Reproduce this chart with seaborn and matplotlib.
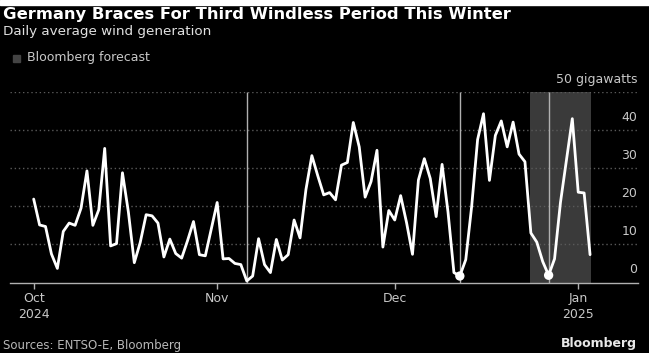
import numpy as np
import pandas as pd
import matplotlib
matplotlib.use("Agg")
import matplotlib.pyplot as plt
import matplotlib.transforms as mtransforms
import seaborn as sns

# ---- data ----
start_date = "2024-10-01"
wind_gw = [21.9, 15.1, 14.7, 7.5, 3.7, 13.4, 15.6, 15.0, 19.5, 29.3,
           15.0, 19.1, 35.2, 9.6, 10.2, 28.8, 18.5, 5.2, 10.5, 17.8,
           17.5, 15.6, 6.7, 11.4, 7.6, 6.4, 11.0, 16.0, 7.3, 7.0,
           14.0, 21.0, 6.2, 6.3, 5.0, 4.7, 0.4, 1.7, 11.5, 4.7,
           2.6, 11.3, 5.9, 7.3, 16.4, 11.7, 24.4, 33.3, 28.0, 23.0,
           23.6, 21.7, 30.8, 31.5, 42.0, 35.6, 22.4, 26.5, 34.7, 9.3,
           18.9, 16.4, 22.8, 15.7, 7.4, 26.9, 32.5, 27.3, 17.3, 31.0,
           18.5, 2.6, 1.7, 6.0, 20.0, 37.5, 44.3, 26.8, 38.6, 42.4,
           35.6, 42.1, 33.7, 31.7, 13.0, 10.6, 5.5, 1.9, 6.2, 21.0,
           32.0, 43.0, 23.7, 23.5, 7.3]
windless_dates = ["2024-11-06", "2024-12-12", "2024-12-27"]
marked_dates = ["2024-12-12", "2024-12-27"]
forecast_start = "2024-12-24"
forecast_end = "2025-01-03"
y_ticks = [0, 10, 20, 30, 40, 50]
y_tick_labels = ["0", "10", "20", "30", "40", "50 gigawatts"]
x_tick_dates = ["2024-10-01", "2024-11-01", "2024-12-01", "2025-01-01"]
x_tick_labels = ["Oct\n2024", "Nov", "Dec", "Jan\n2025"]
title = "Germany Braces For Third Windless Period This Winter"
subtitle = "Daily average wind generation"
legend_label = "Bloomberg forecast"
source = "Sources: ENTSO-E, Bloomberg"
brand = "Bloomberg"

df = pd.DataFrame({
    "date": pd.date_range(start_date, periods=len(wind_gw), freq="D"),
    "gw": wind_gw,
})

sns.set_theme(style="dark")
plt.rcParams["font.family"] = ["DejaVu Sans"]

W, H = 649, 353
fig = plt.figure(figsize=(W / 100, H / 100), dpi=100, facecolor="black")

# axes geometry in pixels
ax_left, ax_right, ax_top, ax_bottom = 10, 638, 92, 282.5
ax = fig.add_axes([ax_left / W, 1 - ax_bottom / H,
                   (ax_right - ax_left) / W, (ax_bottom - ax_top) / H])
ax.set_facecolor("black")

x0 = pd.Timestamp(start_date) - pd.Timedelta(days=4)
x1 = pd.Timestamp(start_date) + pd.Timedelta(days=102.1)
ax.set_xlim(x0, x1)
ax.set_ylim(0, 50)

# forecast shading
ax.axvspan(pd.Timestamp(forecast_start) - pd.Timedelta(hours=2),
           pd.Timestamp(forecast_end) + pd.Timedelta(hours=2),
           color="#3a3a3a", lw=0, zorder=0)

# gridlines
for v in y_ticks[1:]:
    ax.axhline(v, color="#5a5a5a", lw=1, ls=(0, (1, 2)), zorder=1)

# windless markers
for d in windless_dates:
    ax.vlines(pd.Timestamp(d), 0, 50, color="#b0b0b0", lw=1, zorder=2)

sns.lineplot(data=df, x="date", y="gw", ax=ax, color="white", lw=2.0,
             zorder=4, legend=False)
mk = df[df["date"].isin(pd.to_datetime(marked_dates))]
sns.scatterplot(data=mk, x="date", y="gw", ax=ax, color="white", s=45,
                edgecolor="none", zorder=5, legend=False, clip_on=False)

# axes styling
for s in ["left", "right", "top"]:
    ax.spines[s].set_visible(False)
ax.spines["bottom"].set_color("#b0b0b0")
ax.spines["bottom"].set_linewidth(1.0)
ax.set_xlabel("")
ax.set_ylabel("")
ax.set_yticks([])
ax.set_xticks(pd.to_datetime(x_tick_dates))
ax.set_xticklabels(x_tick_labels, color="#c8c8c8", fontsize=9, linespacing=1.3)
ax.tick_params(axis="x", direction="out", length=4, width=1, color="#b0b0b0",
               pad=3, bottom=True)
ax.grid(False)

# y labels inside right edge, above gridlines
trans = mtransforms.blended_transform_factory(ax.transAxes, ax.transData)
off = mtransforms.ScaledTranslation(0, 6.5 / 72, fig.dpi_scale_trans)
for v, lab in zip(y_ticks, y_tick_labels):
    ax.text(0.999, v, lab, transform=trans + off, ha="right", va="baseline",
            color="#c8c8c8", fontsize=9)

# top white strip
fig.patches.append(plt.Rectangle((0, 1 - 5 / H), 1, 5 / H,
                                 transform=fig.transFigure, color="white",
                                 zorder=0))

fig.text(3 / W, 1 - 15 / H, title, color="white", fontsize=11.8,
         fontweight="bold", va="center", ha="left")
fig.text(3 / W, 1 - 31 / H, subtitle, color="#e0e0e0", fontsize=9.7,
         va="center", ha="left")
fig.patches.append(plt.Rectangle((13 / W, 1 - 62 / H), 7 / W, 7 / H,
                                 transform=fig.transFigure, color="#444444"))
fig.text(27 / W, 1 - 58 / H, legend_label, color="#c8c8c8", fontsize=9,
         va="center", ha="left")
fig.text(3 / W, 1 - 346 / H, source, color="#b8b8b8", fontsize=8.5,
         va="center", ha="left")
fig.text(637 / W, 1 - 344 / H, brand, color="#e8e8e8", fontsize=9,
         fontweight="bold", va="center", ha="right")

fig.savefig("out.png", dpi=100, facecolor="black")
